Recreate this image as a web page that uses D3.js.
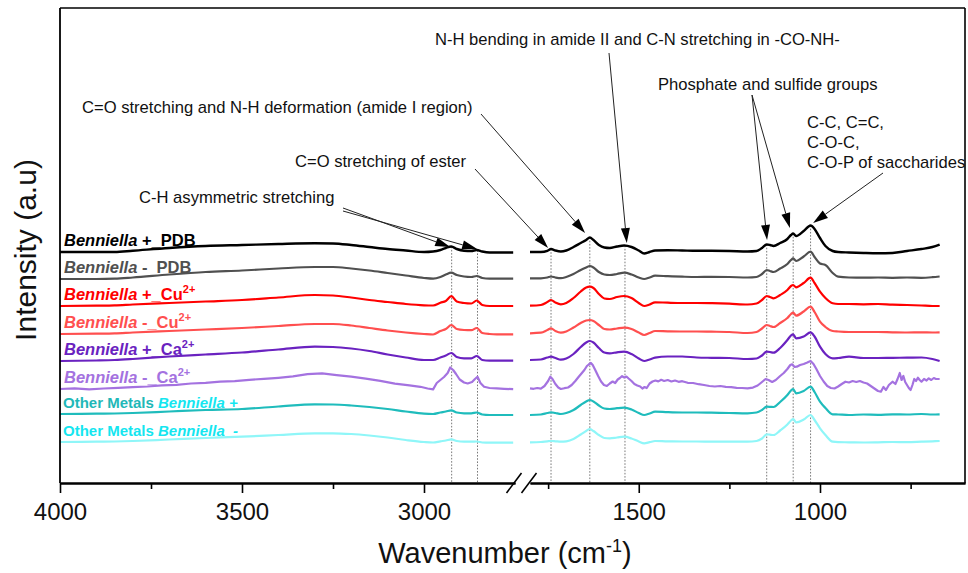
<!DOCTYPE html>
<html><head><meta charset="utf-8">
<script src="https://cdn.jsdelivr.net/npm/d3@7/dist/d3.min.js"></script>
<style>
body{margin:0;background:#fff;}
svg{display:block;font-family:"Liberation Sans",Arial,Helvetica,sans-serif;}
</style></head><body>
<svg id="chart" width="968" height="573"></svg>
<script>
// ---------------- DATA ----------------
// wavenumber grids (cm-1), left segment and right segment of the broken axis
const seg1Wn = [4000,3900,3850,3800,3700,3600,3500,3400,3300,3250,3200,3150,3100,3050,3000,2975,2955,2940,2925,2910,2890,2870,2855,2840,2820,2800,2755];
const seg2Wn = [1800,1770,1752,1742,1730,1715,1700,1680,1660,1645,1635,1625,1610,1595,1580,1560,1540,1520,1500,1485,1470,1455,1420,1380,1340,1300,1250,1200,1175,1160,1147,1138,1128,1110,1090,1080,1074,1066,1045,1026,1015,1000,985,965,950,920,880,840,800,760,720,690,670];
// denser grids for the noisy "Benniella - Ca2+" spectrum
const lpSeg1Wn = [4000,3960,3920,3880,3840,3800,3760,3720,3680,3640,3600,3560,3520,3480,3440,3400,3360,3320,3280,3240,3200,3160,3120,3080,3040,3010,2990,2975,2965,2955,2945,2935,2928,2920,2912,2902,2890,2880,2868,2860,2853,2845,2835,2820,2800,2780,2755];
const lpSeg2Wn = [1800,1790,1780,1770,1760,1750,1744,1738,1730,1722,1715,1705,1695,1685,1675,1665,1658,1650,1643,1638,1632,1627,1620,1612,1604,1596,1588,1580,1572,1565,1558,1552,1546,1540,1534,1528,1520,1512,1504,1496,1490,1484,1478,1470,1462,1454,1446,1438,1430,1420,1410,1400,1390,1380,1365,1350,1335,1320,1305,1290,1275,1260,1245,1230,1215,1200,1185,1172,1160,1150,1142,1132,1122,1110,1100,1090,1082,1077,1070,1064,1055,1045,1035,1026,1018,1010,1000,990,980,970,960,950,940,930,920,910,900,890,880,870,860,850,840,832,825,818,810,800,792,786,780,775,770,765,760,755,750,745,740,735,730,725,720,713,706,700,693,686,680,670];

// series names (legend text is built from these parts)
const seriesKeys = ["bPlusPDB","bMinusPDB","bPlusCu","bMinusCu","bPlusCa","bMinusCa","otherPlus","otherMinus"];
// vertical stacking offsets of the spectra (a.u.)
const stackOffsets = [231,204,177,149,122,94,69,41];

// intensities above each spectrum's own baseline (a.u.)
const bPlusPDB1 = [0,0,0,1.3,4,6,7,8,8.7,8.5,7,5,3,1.5,0,0.5,2,4,5.5,3,1.3,1,2,0.5,-0.5,-0.5,-0.5];
const bPlusPDB2 = [0,0,1.2,3,1.5,0.5,1.5,5,9,12,14.5,12,7,4.5,4,5.5,6.5,5,1.5,-1.5,0,1.5,1.8,1.5,1.2,1.2,1,0.5,1,4,7.5,7,6,9,13,17,18.5,16,21,26.5,23,14,6,1,0,-0.5,-1,-1.3,-1,1,3,5,7.5];
const bMinusPDB1 = [0,0,0.3,1.5,4.5,7,8.5,10.5,12,12,10.5,8.5,6,3.5,1,0.3,2,4.5,6.3,4,2.5,2,3,1,0.3,0.3,0.3];
const bMinusPDB2 = [0.7,0.7,1.5,2.5,1.5,0.8,2,5,9,11.5,13,11.5,7,4.5,4,5,6.3,4.5,1.5,0,1.5,3.3,2.8,2.3,2,2.2,2,1.5,2,5,9,8,7,10.5,15,19,20.7,18,22.5,27.3,22,15.5,14,6,2.3,1.5,1.3,1.5,1.2,1.5,1.2,1.8,2.5];
const bPlusCu1 = [0,0.3,0.6,1.5,3,4.5,6,8.5,11,10.5,8.5,6,4,2,0.7,0.5,3.3,5,9.8,4.5,3,2.5,5.5,1,0,0,0];
const bPlusCu2 = [0.3,1,4,6,3.5,1.7,3,8,14.5,18.5,19.3,18,12,7.5,7,9,10,8,3,0,1.5,3.7,3.3,3,3,2.8,2.3,1.5,2.5,6,10,9,7.7,11,16,20,21,18.7,23,28.3,23,14.3,8,2.7,2,2,1.7,2,1.3,1,0.5,0,0];
const bMinusCu1 = [0,0.3,0.6,1.5,3,4.5,6,8,10,10,8.5,6,3.5,1.5,0,-0.5,3,5,9,5,4,3.8,6,1,0,-0.3,-0.3];
const bMinusCu2 = [0.7,1.3,4,5.7,3,1.3,2.5,6.5,11,13.5,14,13,9,5,4.5,5.5,6.3,5,1.5,-1,1,3,2.7,2.5,2.5,2.3,2,1,2,5.5,9,8,7,11,16,20,21.3,18.3,22.5,27.3,22,12.3,7,3,2.5,2,2,2,1.7,1.5,1.7,1.5,1.7];
const bPlusCa1 = [0,0.5,1,2,4.5,6.5,8.5,11.5,14.3,14,12.5,10,6.5,3.5,1,1,3.5,5.5,8,4,2.7,2.7,5,1,0.3,0.3,0.3];
const bPlusCa2 = [1,1.5,3.5,4.3,3,1.3,2.5,7,14,18.5,20,18.5,13,8.5,7.7,8.7,9.3,7,2.5,0,1.5,3.3,4.5,4.5,3.5,3.2,3,2,2.5,5.5,9.3,9,8.3,13,21,25.5,26.7,22.7,24.5,28.7,24.5,14.3,7,2.7,3,4.3,3,3,3.2,3.3,3.5,2,0];
const bMinusCa1 = [0,0.6,-0.3,0.5,1.2,1.8,2.5,3.6,4.2,5.5,6.2,7.4,7.9,9.2,10.1,11.2,12.6,14.8,15.6,13.9,12.3,10.4,8.1,5.4,3.6,2.2,0.5,-0.4,6,9,12,16,21.5,19,15,9.5,6.5,5.5,7,10,12.3,6,2.2,1,0.6,0.2,-0.2];
const bMinusCa2 = [0.7,0.2,1.0,0.4,3,8,12.3,10,5,1.5,0,0.8,1.5,4,8,12.5,15.5,19,23,24.5,26,24,19,13,7.5,4,3,5.5,7.5,6,9.5,11,12.8,11.5,12.5,10.5,8,5,3.5,2.5,0.5,2,1,5.5,7.5,8.5,7.6,9.2,8,9,7.5,8.5,7.2,7.8,6.2,6,4.8,4,3,2.5,3,2.2,1.8,1.2,1,0.6,1.4,3.5,7,10,9,7,9,13,16,20,24,24.7,22,22.3,24,25,26.5,28,25,20,13,7.5,3,1,0.5,2.5,5,7.3,6.5,8,7,8,6.5,5.5,3,0.5,-2,-2.7,2,-1,4,7.3,5,10,16,9,13,7,4,1,-1,4,10,8,11.3,9,7.3,10,8.5,10.7,9,11,10,10];
const otherPlus1 = [0,0.3,0.5,1,2.5,4,5,7.5,9.7,9.5,8.5,7,5,2.5,0.3,0,1.5,2.5,3.7,1.5,0.7,0.7,1.5,-0.5,-1,-1,-1];
const otherPlus2 = [-1,-0.5,1,1.7,1,0,1,4,9,12.5,14,12.5,8.5,5.5,5,5.8,6.3,4.5,1,-1,0.5,2.3,1.8,1.5,1.5,1.3,1,0.7,1.5,4,7.3,7.2,7,12,19,23.5,25,20.7,23,27.3,22,12.3,6,-0.3,-0.5,-1,-0.5,-0.8,-0.3,-0.5,0,-0.5,-0.3];
const otherMinus1 = [0,0.3,0.5,1,2.5,4,5.3,7,8.7,8.7,8,6.5,4.5,2,0,-0.5,0.7,1.5,2.7,1,0.3,0.3,0.5,-0.5,-0.7,-0.7,-0.7];
const otherMinus2 = [-0.3,0,0.7,1,0.7,0.3,0.7,3,7.5,11,13,11,7,4,3.7,4.5,5.3,3.5,0.5,-1.3,-0.2,1,0.6,0.5,0.5,0.4,0.3,0.3,1,3.5,7.7,7.3,7,11.5,17.5,21.5,23,19.7,22.5,27,22,13.7,7,0.3,-0.2,-0.3,-0.5,-0.3,0,-0.2,0.3,0.7,1];

// legend label text parts per series
const labelParts = [
  [["Benniella","i"],[" +_PDB",""]],
  [["Benniella","i"],[" -  PDB",""]],
  [["Benniella","i"],[" +_Cu",""],["2+","sup"]],
  [["Benniella","i"],[" -_Cu",""],["2+","sup"]],
  [["Benniella","i"],[" +_Ca",""],["2+","sup"]],
  [["Benniella","i"],[" -_Ca",""],["2+","sup"]],
  [["Other Metals ",""],["Benniella +","i"]],
  [["Other Metals ",""],["Benniella  -","i"]]
];

// tick labels
const majorTicks1 = [4000,3500,3000];
const minorTicks1 = [3750,3250];
const majorTicks2 = [1500,1000];
const minorTicks2 = [1750,1250,750];

// peak positions marked by dotted lines (cm-1)
const peakWn = [2924,2853,1742,1635,1538,1147,1074,1026];

// annotation texts and arrow targets [wavenumber, intensity a.u.]
const annotationText = [
  ["C-H asymmetric stretching"],
  ["C=O stretching of ester"],
  ["C=O stretching and N-H deformation (amide I region)"],
  ["N-H bending in amide II and C-N stretching in -CO-NH-"],
  ["Phosphate and sulfide groups"],
  ["C-C, C=C,","C-O-C,","C-O-P of saccharides"]
];
const annotationTargets = [
  [[2928,236],[2854,234]],
  [[1750,235]],
  [[1648,250]],
  [[1533,240]],
  [[1146,243],[1083,255]],
  [[1019,260]]
];

// ---------------- LAYOUT / STYLE ----------------
const plotLeft = 60, plotRight = 965, plotTop = 8, plotBottom = 483;
const seg1End = 515, seg2Start = 530;
const lineColors = ["#000000","#505050","#ff0000","#ff4f4f","#6a22c0","#a472e0","#1fbcbc","#8ff6f8"];
const labelColors = [
  ["#000000","#000000"],["#505050","#505050"],["#ff0000","#ff0000","#ff0000"],["#ff4f4f","#ff4f4f","#ff4f4f"],
  ["#6a22c0","#6a22c0","#6a22c0"],["#a472e0","#a472e0","#a472e0"],["#1fb8b8","#14e6f0"],["#14e6f0","#14e6f0"]
];
const annotationLayout = [
  {x:139, y:203, from:[[343,208],[343,211]]},
  {x:295, y:167, from:[[475,169]]},
  {x:82,  y:113, from:[[481,114]]},
  {x:435, y:45,  from:[[609,53]]},
  {x:658, y:90,  from:[[752,95],[752,95]]},
  {x:807, y:128, from:[[883,173]]}
];

const svg = d3.select("#chart");
const x1 = d3.scaleLinear().domain([4000,2750]).range([plotLeft, seg1End]);
const x2 = d3.scaleLinear().domain([1800,600]).range([seg2Start, plotRight]);
const y = d3.scaleLinear().domain([0,475]).range([plotBottom, plotTop]);
const xAny = w => (w > 2000 ? x1(w) : x2(w));

const seriesTable = seriesKeys.map((k,i) => {
  const isLP = k === "bMinusCa";
  const v1 = [bPlusPDB1,bMinusPDB1,bPlusCu1,bMinusCu1,bPlusCa1,bMinusCa1,otherPlus1,otherMinus1][i];
  const v2 = [bPlusPDB2,bMinusPDB2,bPlusCu2,bMinusCu2,bPlusCa2,bMinusCa2,otherPlus2,otherMinus2][i];
  const g1 = isLP ? lpSeg1Wn : seg1Wn, g2 = isLP ? lpSeg2Wn : seg2Wn;
  return {key:k, noisy:isLP, off:stackOffsets[i],
    s1: g1.map((w,j)=>[w, v1[j]]), s2: g2.map((w,j)=>[w, v2[j]])};
});

// dotted peak lines (behind spectra)
const black = seriesTable[0];
function blackAt(w){
  const arr = w > 2000 ? black.s1 : black.s2;
  for (let j=0;j<arr.length-1;j++){
    const a=arr[j], b=arr[j+1];
    if (w<=a[0] && w>=b[0]){ const t=(a[0]-w)/(a[0]-b[0]); return a[1]+(b[1]-a[1])*t + black.off; }
  }
  return black.off;
}
svg.append("g").selectAll("line").data(peakWn).join("line")
  .attr("x1", d=>xAny(d)).attr("x2", d=>xAny(d))
  .attr("y1", d=>y(blackAt(d))).attr("y2", plotBottom)
  .attr("stroke","#7a7a7a").attr("stroke-width",1).attr("stroke-dasharray","1.6,1.6");

// spectra
const gLines = svg.append("g");
seriesTable.forEach((s,i)=>{
  const lineGen = xs => d3.line().x(d=>xs(d[0])).y(d=>y(d[1]+s.off))
    .curve(s.noisy ? d3.curveLinear : d3.curveMonotoneX);
  [[s.s1,x1],[s.s2,x2]].forEach(([pts,xs])=>{
    gLines.append("path").attr("d", lineGen(xs)(pts))
      .attr("fill","none").attr("stroke", lineColors[i])
      .attr("stroke-width", i===0 ? 2.4 : 2.2).attr("stroke-linejoin","round");
  });
});

// legend labels
const gLab = svg.append("g");
labelParts.forEach((parts,i)=>{
  const other = i>=6;
  const t = gLab.append("text")
    .attr("x", other ? 63 : 64)
    .attr("y", y(stackOffsets[i]) - (other ? 6.5 : 6))
    .attr("font-size", other ? 15 : 16.5)
    .attr("font-weight","bold")
    .style("white-space","pre");
  parts.forEach(([txt,st],j)=>{
    const ts = t.append("tspan").text(txt).attr("fill", labelColors[i][j]);
    if (st==="i") ts.attr("font-style","italic");
    if (st==="sup"){ ts.attr("font-size",11).attr("dy",-7); }
  });
});

// frame
svg.append("line").attr("x1",plotLeft).attr("x2",plotRight).attr("y1",plotTop).attr("y2",plotTop)
  .attr("stroke","#000").attr("stroke-width",1.6);
svg.append("line").attr("x1",plotRight).attr("x2",plotRight).attr("y1",plotTop).attr("y2",plotBottom)
  .attr("stroke","#000").attr("stroke-width",1.6);
svg.append("line").attr("x1",plotLeft).attr("x2",plotLeft).attr("y1",plotTop).attr("y2",plotBottom)
  .attr("stroke","#000").attr("stroke-width",1.8);

// x axes
function styleAxis(g){
  g.select(".domain").attr("stroke","#000").attr("stroke-width",1.8);
  g.selectAll(".tick line").attr("stroke","#000").attr("stroke-width",1.6);
  g.selectAll(".tick text").attr("font-size",24).attr("fill","#111")
    .attr("font-family","'Liberation Sans',Arial,sans-serif");
}
[[x1,majorTicks1,minorTicks1],[x2,majorTicks2,minorTicks2]].forEach(([xs,maj,min])=>{
  const gM = svg.append("g").attr("transform",`translate(0,${plotBottom})`)
    .call(d3.axisBottom(xs).tickValues(maj).tickSize(10).tickSizeOuter(0).tickPadding(10).tickFormat(d3.format("d")));
  styleAxis(gM);
  const gm = svg.append("g").attr("transform",`translate(0,${plotBottom})`)
    .call(d3.axisBottom(xs).tickValues(min).tickSize(6).tickSizeOuter(0).tickFormat(""));
  styleAxis(gm);
});
// axis break marks
[514,529].forEach(cx=>{
  svg.append("line").attr("x1",cx-7.5).attr("y1",plotBottom+10).attr("x2",cx+7.5).attr("y2",plotBottom-10)
    .attr("stroke","#000").attr("stroke-width",1.6);
});

// axis titles
const xt = svg.append("text").attr("x",505).attr("y",563).attr("text-anchor","middle")
  .attr("font-size",29).attr("fill","#111");
xt.append("tspan").text("Wavenumber (cm");
xt.append("tspan").text("-1").attr("font-size",18).attr("dy",-11);
xt.append("tspan").text(")").attr("dy",11);
svg.append("text").attr("transform","translate(36,250) rotate(-90)").attr("text-anchor","middle")
  .attr("font-size",30).attr("fill","#111").text("Intensity (a.u)");

// annotations
const gAnn = svg.append("g");
annotationText.forEach((lines,i)=>{
  const L = annotationLayout[i];
  lines.forEach((ln,k)=>{
    gAnn.append("text").attr("x",L.x).attr("y",L.y + k*20).attr("font-size",16.6).attr("fill","#111").text(ln);
  });
  annotationTargets[i].forEach((tg,k)=>{
    const from = L.from[Math.min(k, L.from.length-1)];
    const tx = xAny(tg[0]), ty = y(tg[1]);
    const dx = tx-from[0], dy = ty-from[1], len = Math.hypot(dx,dy);
    const ux = dx/len, uy = dy/len, hl = 15, hw = 4.5;
    const bx = tx-ux*hl, by = ty-uy*hl;
    gAnn.append("line").attr("x1",from[0]).attr("y1",from[1]).attr("x2",bx).attr("y2",by)
      .attr("stroke","#222").attr("stroke-width",1);
    gAnn.append("polygon").attr("points",
      `${tx},${ty} ${bx-uy*hw},${by+ux*hw} ${bx+uy*hw},${by-ux*hw}`).attr("fill","#000");
  });
});
</script>
</body></html>
